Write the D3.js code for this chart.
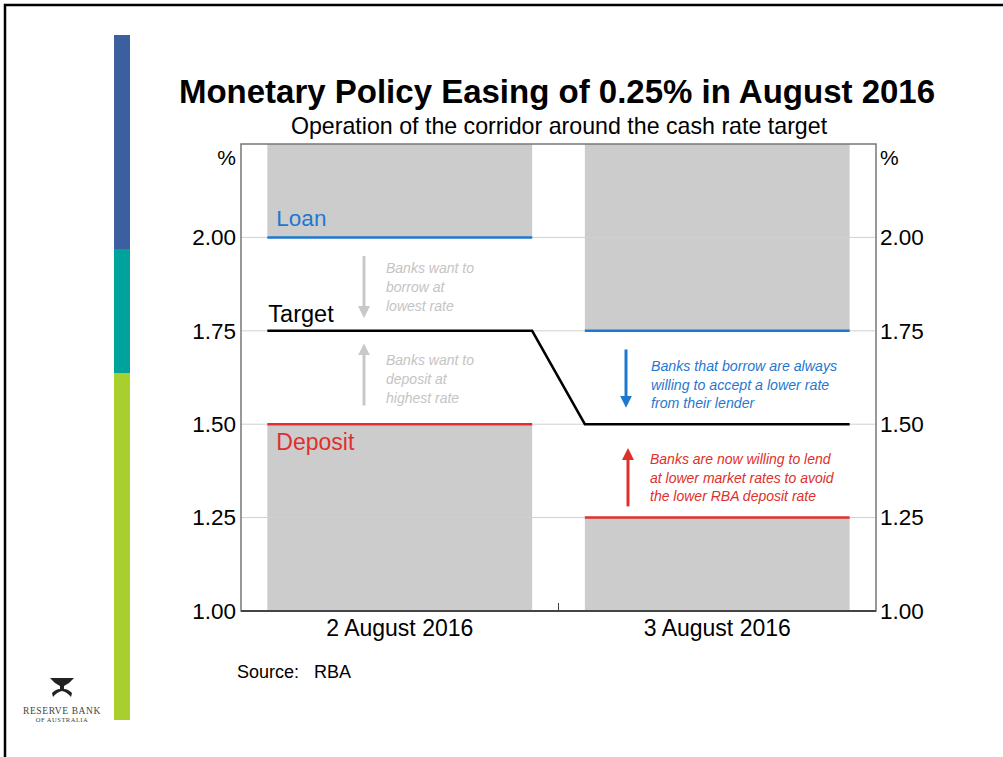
<!DOCTYPE html>
<html>
<head>
<meta charset="utf-8">
<script src="https://cdn.jsdelivr.net/npm/d3@7"></script>
<style>
  body { margin: 0; background: #fff; }
  svg { display: block; font-family: Arial, "Liberation Sans", sans-serif; }
</style>
</head>
<body>
<div id="chart"></div>
<script>
// chart data
var categories = ["2 August 2016", "3 August 2016"];
var loanRate = [2.00, 1.75];
var targetRate = [1.75, 1.50];
var depositRate = [1.50, 1.25];
var yTicks = [1.00, 1.25, 1.50, 1.75, 2.00];
var yDomain = [1.00, 2.25];
var grayNotes = [
  ["Banks want to", "borrow at", "lowest rate"],
  ["Banks want to", "deposit at", "highest rate"]
];
var blueNote = ["Banks that borrow are always", "willing to accept a lower rate", "from their lender"];
var redNote = ["Banks are now willing to lend", "at lower market rates to avoid", "the lower RBA deposit rate"];

var W = 1003, H = 757;
var blue = "#1f78d0", red = "#e0302b", grey = "#cccccc";

var svg = d3.select("#chart").append("svg").attr("width", W).attr("height", H);

// slide frame
svg.append("path").attr("d", "M5," + H + "V5H" + W).attr("fill", "none").attr("stroke", "#000").attr("stroke-width", 2.5);

// colour strip on the left
var strip = [[35, 249, "#3c5f9f"], [249, 373, "#00a39b"], [373, 720, "#a8cf2d"]];
svg.selectAll(".strip").data(strip).enter().append("rect")
  .attr("x", 114).attr("width", 16)
  .attr("y", function(d) { return d[0]; })
  .attr("height", function(d) { return d[1] - d[0]; })
  .attr("fill", function(d) { return d[2]; });

// RBA logo
var logo = svg.append("g").attr("transform", "translate(62,688)");
logo.append("path")
  .attr("d", "M-12,-10 L12,-10 L7,-5 L2,-2 L2,1 Q6,1 10,5 L9,9 Q5,4 0,3 Q-5,4 -9,9 L-10,5 Q-6,1 -2,1 L-2,-2 L-7,-5 Z")
  .attr("fill", "#222");
logo.append("text").attr("x", 0).attr("y", 26).attr("text-anchor", "middle")
  .attr("font-family", "'Liberation Serif', serif").attr("font-size", 9.5).attr("fill", "#444")
  .attr("letter-spacing", 0.6).text("RESERVE BANK");
logo.append("text").attr("x", 0).attr("y", 34).attr("text-anchor", "middle")
  .attr("font-family", "'Liberation Serif', serif").attr("font-size", 6.5).attr("fill", "#444")
  .attr("letter-spacing", 0.5).text("OF AUSTRALIA");

// titles
svg.append("text").attr("x", 557).attr("y", 103).attr("text-anchor", "middle")
  .attr("font-size", 33).attr("font-weight", "bold").attr("fill", "#000")
  .text("Monetary Policy Easing of 0.25% in August 2016");
svg.append("text").attr("x", 559).attr("y", 134).attr("text-anchor", "middle")
  .attr("font-size", 23.2).attr("fill", "#000")
  .text("Operation of the corridor around the cash rate target");

// plot area
var pLeft = 241, pRight = 876, pTop = 144, pBottom = 611;
var x = d3.scaleBand().domain(categories).range([pLeft, pRight]).paddingInner(0.166).paddingOuter(0.083);
var y = d3.scaleLinear().domain(yDomain).range([pBottom, pTop]);

var plot = svg.append("g");

// grey shaded areas outside the corridor
plot.selectAll(".upper").data(categories).enter().append("rect")
  .attr("x", function(d) { return x(d); }).attr("width", x.bandwidth())
  .attr("y", y(yDomain[1]))
  .attr("height", function(d, i) { return y(loanRate[i]) - y(yDomain[1]); })
  .attr("fill", grey);
plot.selectAll(".lower").data(categories).enter().append("rect")
  .attr("x", function(d) { return x(d); }).attr("width", x.bandwidth())
  .attr("y", function(d, i) { return y(depositRate[i]); })
  .attr("height", function(d, i) { return y(yDomain[0]) - y(depositRate[i]); })
  .attr("fill", grey);

// gridlines
plot.selectAll(".grid").data(yTicks.slice(1)).enter().append("line")
  .attr("x1", pLeft).attr("x2", pRight)
  .attr("y1", function(d) { return y(d); }).attr("y2", function(d) { return y(d); })
  .attr("stroke", "#d0d0d0").attr("stroke-width", 1);

// axes
var yl = d3.axisLeft(y).tickValues(yTicks).tickFormat(d3.format(".2f")).tickSize(0).tickPadding(5);
var yr = d3.axisRight(y).tickValues(yTicks).tickFormat(d3.format(".2f")).tickSize(0).tickPadding(4);
var gl = svg.append("g").attr("transform", "translate(" + pLeft + ",0)").call(yl);
var gr = svg.append("g").attr("transform", "translate(" + pRight + ",0)").call(yr);
[gl, gr].forEach(function(g) {
  g.select(".domain").remove();
  g.selectAll("text").attr("font-size", 22.5).attr("fill", "#000")
    .attr("font-family", "Arial, 'Liberation Sans', sans-serif");
});
var xa = d3.axisBottom(x).tickSize(0).tickPadding(9);
var gx = svg.append("g").attr("transform", "translate(0," + pBottom + ")").call(xa);
gx.select(".domain").remove();
gx.selectAll("text").attr("font-size", 23).attr("fill", "#000")
  .attr("font-family", "Arial, 'Liberation Sans', sans-serif");

// frame
svg.append("rect").attr("x", pLeft).attr("y", pTop).attr("width", pRight - pLeft).attr("height", pBottom - pTop)
  .attr("fill", "none").attr("stroke", "#777").attr("stroke-width", 1.5);
svg.append("line").attr("x1", pLeft).attr("x2", pRight).attr("y1", pBottom).attr("y2", pBottom)
  .attr("stroke", "#444").attr("stroke-width", 2);
svg.append("line").attr("x1", (pLeft + pRight) / 2).attr("x2", (pLeft + pRight) / 2)
  .attr("y1", pBottom).attr("y2", pBottom - 8).attr("stroke", "#444").attr("stroke-width", 1);

svg.append("text").attr("x", 236).attr("y", 165).attr("text-anchor", "end").attr("font-size", 21).text("%");
svg.append("text").attr("x", 880).attr("y", 165).attr("font-size", 21).text("%");

// rate lines
function rateLine(vals, col) {
  plot.selectAll(null).data(categories).enter().append("line")
    .attr("x1", function(d) { return x(d); })
    .attr("x2", function(d) { return x(d) + x.bandwidth(); })
    .attr("y1", function(d, i) { return y(vals[i]); })
    .attr("y2", function(d, i) { return y(vals[i]); })
    .attr("stroke", col).attr("stroke-width", 2.5);
}
rateLine(loanRate, blue);
rateLine(depositRate, red);

var targetPts = [];
categories.forEach(function(c, i) {
  targetPts.push([x(c), y(targetRate[i])]);
  targetPts.push([x(c) + x.bandwidth(), y(targetRate[i])]);
});
plot.append("path").attr("d", d3.line()(targetPts))
  .attr("fill", "none").attr("stroke", "#000").attr("stroke-width", 2.5);

// series labels
var c0 = x(categories[0]);
svg.append("text").attr("x", c0 + 9).attr("y", y(loanRate[0]) - 11).attr("font-size", 22.5).attr("fill", blue).text("Loan");
svg.append("text").attr("x", c0 + 1).attr("y", y(targetRate[0]) - 9).attr("font-size", 23.5).attr("fill", "#000").text("Target");
svg.append("text").attr("x", c0 + 9).attr("y", y(depositRate[0]) + 26).attr("font-size", 23).attr("fill", red).text("Deposit");

// arrows
var defs = svg.append("defs");
function marker(id, col) {
  defs.append("marker").attr("id", id).attr("viewBox", "0 0 10 10")
    .attr("refX", 5).attr("refY", 5).attr("markerWidth", 4).attr("markerHeight", 5)
    .attr("orient", "auto")
    .append("path").attr("d", "M0,0 L10,5 L0,10 Z").attr("fill", col);
}
marker("ag", "#c8c8c8");
marker("ab", blue);
marker("ar", red);
function arrow(ax, y1, y2, col, id) {
  svg.append("line").attr("x1", ax).attr("x2", ax).attr("y1", y1).attr("y2", y2)
    .attr("stroke", col).attr("stroke-width", 3).attr("marker-end", "url(#" + id + ")");
}
arrow(364, y(1.95), y(1.80), "#c8c8c8", "ag");
arrow(364, y(1.55), y(1.70), "#c8c8c8", "ag");
arrow(626, y(1.70), y(1.56), blue, "ab");
arrow(628, y(1.28), y(1.42), red, "ar");

function note(lines, nx, ny, col, size, lh) {
  var t = svg.append("text").attr("font-size", size).attr("font-style", "italic").attr("fill", col);
  lines.forEach(function(l, i) {
    t.append("tspan").attr("x", nx).attr("y", ny + i * lh).text(l);
  });
}
note(grayNotes[0], 386, 273, "#c4c4c4", 14, 19);
note(grayNotes[1], 386, 365, "#c4c4c4", 14, 19);
note(blueNote, 651, 371, blue, 14.2, 18.5);
note(redNote, 650, 464, red, 14, 18.5);

// source
svg.append("text").attr("x", 237).attr("y", 678).attr("font-size", 18).attr("xml:space", "preserve")
  .text("Source:   RBA");
</script>
</body>
</html>
